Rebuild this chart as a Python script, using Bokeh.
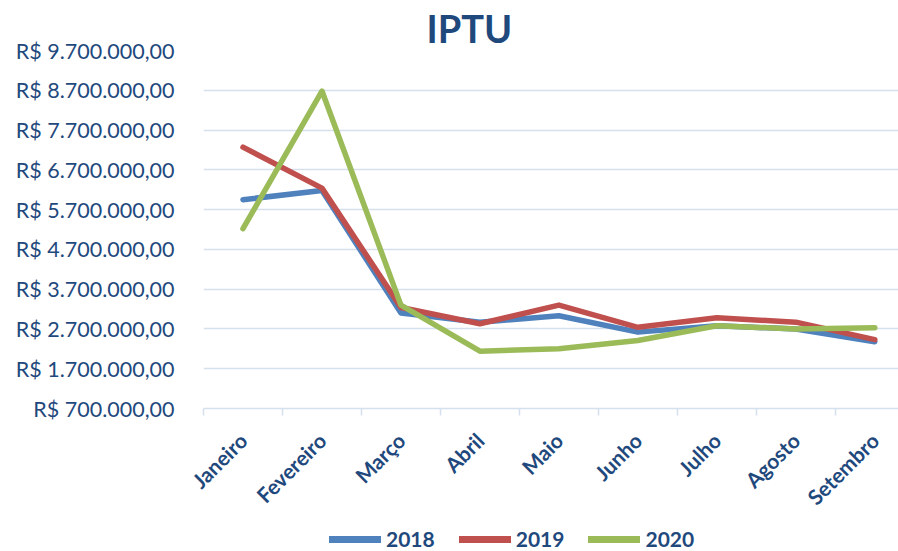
import math
from bokeh.plotting import figure
from bokeh.layouts import column
from bokeh.models import Range1d, FixedTicker, Legend, LegendItem, ColumnDataSource
from bokeh.embed import file_html
from bokeh.resources import INLINE

months = ["Janeiro", "Fevereiro", "Março", "Abril", "Maio", "Junho", "Julho", "Agosto", "Setembro"]
v2018 = [5950000, 6180000, 3100000, 2870000, 3030000, 2620000, 2780000, 2700000, 2380000]
v2019 = [7270000, 6240000, 3240000, 2830000, 3300000, 2740000, 2980000, 2870000, 2430000]
v2020 = [5220000, 8680000, 3300000, 2140000, 2200000, 2410000, 2780000, 2700000, 2730000]
y_ticks = [700000, 1700000, 2700000, 3700000, 4700000, 5700000, 6700000, 7700000, 8700000, 9700000]
y_tick_labels = ["R$ 700.000,00", "R$ 1.700.000,00", "R$ 2.700.000,00", "R$ 3.700.000,00",
                 "R$ 4.700.000,00", "R$ 5.700.000,00", "R$ 6.700.000,00", "R$ 7.700.000,00",
                 "R$ 8.700.000,00", "R$ 9.700.000,00"]
series_names = ["2018", "2019", "2020"]
colors = ["#4F81BD", "#C0504D", "#9BBB59"]

TXT = "#1F497D"
GRID = "#D5E0EE"
FONT = "Lato"

x_idx = list(range(len(months)))
src = ColumnDataSource(dict(x=x_idx, v2018=v2018, v2019=v2019, v2020=v2020))

p = figure(width=898, height=521, output_backend="svg", toolbar_location=None,
           x_range=Range1d(-0.5, 8.3), y_range=Range1d(700000, 9700000),
           min_border_left=203, min_border_right=0, min_border_top=50, min_border_bottom=111)
p.outline_line_color = None
p.background_fill_color = "white"

p.title.text = "IPTU"
p.title.text_font = FONT
p.title.text_font_size = "38px"
p.title.text_font_style = "bold"
p.title.text_color = TXT
p.title.align = "left"
p.title.offset = 223
p.title.standoff = 0

for name, col in zip(series_names, colors):
    p.line("x", "v" + name, source=src, line_color=col, line_width=5.5,
           line_cap="round", line_join="round")

# y axis
p.yaxis.ticker = FixedTicker(ticks=y_ticks)
p.yaxis.major_label_overrides = {t: l for t, l in zip(y_ticks, y_tick_labels)}
p.yaxis.axis_line_color = None
p.yaxis.major_tick_line_color = None
p.yaxis.minor_tick_line_color = None
p.yaxis.major_label_standoff = 23
p.yaxis.major_label_text_font = FONT
p.yaxis.major_label_text_font_size = "21.5px"
p.yaxis.major_label_text_color = TXT

p.ygrid.ticker = FixedTicker(ticks=y_ticks)
p.ygrid.grid_line_color = GRID
p.ygrid.grid_line_width = 1.5
p.xgrid.grid_line_color = None

# x axis
p.xaxis.ticker = FixedTicker(ticks=x_idx, minor_ticks=[i - 0.5 for i in range(len(months) + 1)])
p.xaxis.major_label_overrides = {i: m for i, m in enumerate(months)}
p.xaxis.major_label_orientation = math.pi / 4
p.xaxis.major_tick_line_color = None
p.xaxis.minor_tick_line_color = GRID
p.xaxis.minor_tick_line_width = 1.5
p.xaxis.minor_tick_out = 7
p.xaxis.minor_tick_in = 0
p.xaxis.axis_line_color = GRID
p.xaxis.axis_line_width = 1.5
p.xaxis.major_label_standoff = 21
p.xaxis.major_label_text_font = FONT
p.xaxis.major_label_text_font_size = "21px"
p.xaxis.major_label_text_font_style = "bold"
p.xaxis.major_label_text_color = TXT

# legend strip below the chart (its lines fall outside its own y range, so only the legend shows)
pl = figure(width=898, height=30, output_backend="svg", toolbar_location=None,
            x_axis_type=None, y_axis_type=None, min_border=0,
            x_range=Range1d(-0.5, 8.3), y_range=Range1d(-2, -1))
pl.outline_line_color = None
pl.grid.visible = False
leg_renderers = []
for name, col in zip(series_names, colors):
    r = pl.line("x", "v" + name, source=src, line_color=col, line_width=7, line_cap="round")
    leg_renderers.append(r)

legend = Legend(items=[LegendItem(label=n, renderers=[r]) for n, r in zip(series_names, leg_renderers)],
                orientation="horizontal", location=(126, 0))
legend.glyph_width = 52
legend.label_standoff = 5
legend.spacing = 24
legend.padding = 0
legend.margin = 0
legend.border_line_color = None
legend.background_fill_alpha = 0
legend.label_text_font = FONT
legend.label_text_font_size = "21px"
legend.label_text_font_style = "bold"
legend.label_text_color = TXT
pl.add_layout(legend, "center")

layout = column(p, pl, spacing=0)
open("out.html", "w").write(file_html(layout, INLINE))
